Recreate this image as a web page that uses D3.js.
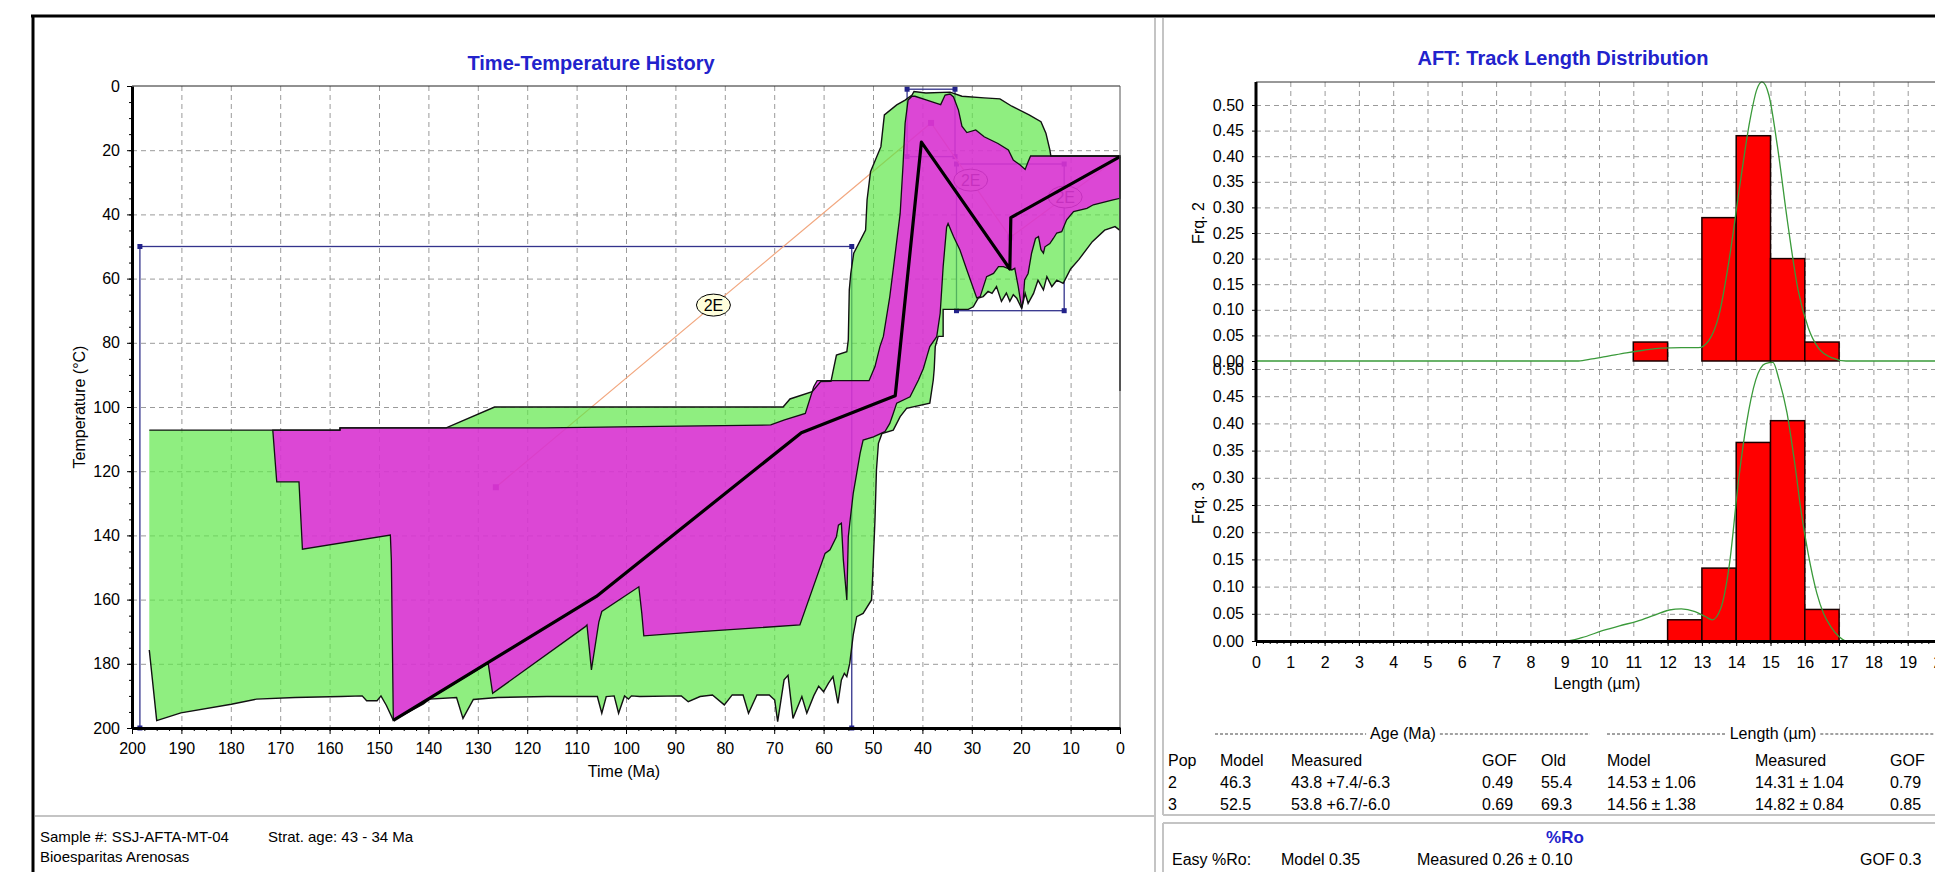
<!DOCTYPE html>
<html>
<head>
<meta charset="utf-8">
<title>Time-Temperature History / AFT</title>
<style>
    body { margin: 0; background: #fff; overflow: hidden; }
    text { font-family: "Liberation Sans", Arial, sans-serif; }
    .grid line { stroke: #9a9a9a; stroke-dasharray: 5,4; }
    .grid .domain { display: none; }
</style>
</head>
<body>
<div id="chart"></div>
<script src="https://cdn.jsdelivr.net/npm/d3@7"></script>
<script>
    const width = 1935, height = 872

    // ---------- time-temperature history ----------
    const timeTicks = d3.range(0, 201, 10)
    const tempTicks = d3.range(0, 201, 20)
    // constraint boxes: [t old, t young, T top, T bottom]
    const boxes = [
        [198.4, 54.3, 50, 200],
        [43.1, 33.4, 1, 22],
        [33.1, 11.3, 24.3, 70]
    ]
    const endPoint = [0, 22]
    const boxLabel = "2E"

    // acceptable-fit envelope (t Ma, T °C)
    const greenUpper = [[196.5,107.2],[157.9,107.2],[157.9,106.5],[136.4,106.5],[126.6,100],[68.2,100],[66.8,97.5],
        [62.3,95.2],[60.6,92.1],[58.5,92],[58.1,89],[57.4,83.8],[55.3,82.8],[55,79.1],[54.8,63.6],[54.5,58.4],
        [53.9,52.1],[51.5,44.9],[51.2,35.5],[50.5,26.7],[48.4,18.9],[47.7,9.0],[45.2,5.9],[43.5,4.4],[42.1,2.8],
        [41.7,1.7],[39.3,2.2],[34.4,1.9],[32,3.2],[27.5,3.7],[24.3,4.0],[21.9,6.3],[18.4,9.0],[16,11.1],[15,14.7],
        [14.2,19.9],[14,21.8],[0,21.8]]
    const greenLower = [[0,95],[0,45],[0.4,44.5],[1.0,43.8],[3.1,44.9],[5.6,48.5],[8.3,54],[10,57],[11.5,61.5],
        [12.8,60.5],[13.8,62.5],[14.8,59.4],[15.5,63.5],[16.6,60.5],[17.5,64.6],[18.6,67.7],[19.2,64.6],[19.9,69.3],
        [20.9,66.1],[21.6,65],[22.3,67.1],[23,64.5],[24,67.1],[25,62.5],[25.9,64.6],[26.7,64],[27.7,65.6],[28.7,66.1],
        [29.7,68.8],[30.7,69.6],[35.8,69.6],[35.8,78],[36.8,78],[37.4,81.2],[37.6,88],[37.8,91.6],[38.5,98.8],
        [43.2,100.4],[44.5,103],[45.9,107.2],[48.2,108.3],[48.9,111.3],[49.3,119.6],[49.6,135.2],[50.1,153.9],
        [50.3,160.1],[52,164.3],[53.3,165.3],[54,171],[54.7,179.8],[55.3,184],[55.8,183],[56.4,185],[57.1,192.3],
        [58.1,184],[59,186],[60,188.7],[61,187],[62,190],[63.4,195.4],[64.4,190.2],[66.2,197],[67.2,183.6],[68,185],
        [69.3,198],[69.9,191.3],[71,189.7],[73.5,189.7],[75.2,195.4],[76.3,189.7],[78.5,189.7],[80.1,192.8],
        [82.5,189.7],[85,190.2],[87.4,191.8],[88.8,190],[97.2,190.2],[98.9,190],[99.5,191],[100.3,190],[101.5,195.4],
        [102.4,190],[104,190.2],[104.9,195.4],[105.8,190.2],[116,190.2],[126,190.5],[130.9,191.1],[133,197],
        [134.3,190.5],[139.8,191],[141,192.5],[147.1,197.6],[148.5,193],[149.6,190],[150.4,191.5],[152.5,191.5],
        [153.4,190],[157.7,190.2],[167,190.5],[174.8,191],[179.9,192.6],[190.1,195.3],[195,197.7],[196.5,175.7]]

    // good-fit envelope
    const magentaUpper = [[171.5,107.2],[157.9,107.2],[157.9,106.5],[116.4,106.5],[97.2,106.1],[70.7,105.6],
        [67.9,104],[63.7,102],[62,93.7],[61.3,91.8],[50.8,91.8],[49.6,87.4],[48.6,81.2],[47.9,78],[46.6,65.6],
        [45.5,52.1],[44.5,39.7],[43.9,24.1],[43.5,11.6],[42.9,4.4],[42.1,3.2],[41.5,3.2],[39.1,4.4],[37.1,5.4],
        [36.3,5.8],[35.4,2.8],[34.4,2.5],[33.7,3.4],[32.7,7.5],[32.0,12.5],[31,14.5],[29.2,13.7],[27.5,15.8],
        [24.7,17.9],[22.6,19.9],[21.6,23.1],[20.2,24.6],[19.2,26],[18.6,23.6],[18.1,21.8],[0,21.8]]
    const magentaLower = [[0,35],[1.4,35.5],[4,36.5],[5.4,37],[6.7,38.1],[9.4,39.1],[10.8,41.7],[11.8,45.4],
        [12.8,45.8],[13.5,47.5],[14.2,49.1],[15.2,50.1],[15.5,52.1],[16,51],[16.5,46.9],[17.1,47.5],[17.9,52.1],
        [18.6,58.4],[19.3,60.4],[19.6,66.7],[19.9,69.3],[20.6,62.5],[21.3,56.8],[21.9,57.3],[23.6,56.3],[24.6,56.3],
        [25.6,58.4],[27,59.4],[28.3,65.6],[29,66],[31,57.3],[32.4,51.1],[33.7,46.9],[34.8,42.8],[35.1,44],[35.8,56.3],
        [36.4,70.8],[37.1,78.1],[38.5,81.2],[39.1,84.3],[39.8,88],[40.8,91.6],[42.5,96.8],[45.2,98.8],[45.9,102],
        [46.6,105.1],[47.6,107.7],[49.9,109.3],[52,110.3],[52.6,114.4],[53.3,120.7],[54,126.9],[54.7,136.2],
        [55,140.4],[55.3,160.1],[56,147.7],[56.4,136.2],[57,136.8],[57.4,140.4],[58.7,144.5],[59.7,145.6],
        [64.8,167.9],[85,170],[96.4,171.3],[96.8,164.3],[97.4,156],[104.9,163.7],[105.5,167],[107,181.9],
        [107.9,167.9],[108.3,168.5],[127,189.2],[127.9,179.8],[147.1,197.6],[147.5,147.7],[147.7,139.9],
        [165.5,144.3],[166.2,123.3],[170.7,123.3]]

    // best-fit path
    const bestPath = [[147.1,197.6],[106,159],[64.5,108],[45.5,96.5],[40.2,17.5],[22.3,57],[22.1,41],[0,22]]

    // ---------- track length distribution ----------
    const lengthTicks = d3.range(0, 21)
    const freqTicks = [0, 0.05, 0.10, 0.15, 0.20, 0.25, 0.30, 0.35, 0.40, 0.45, 0.50]
    const pop2Bins = [11, 13, 14, 15, 16]
    const pop2Freq = [0.037, 0.28, 0.44, 0.20, 0.037]
    const pop3Bins = [12, 13, 14, 15, 16]
    const pop3Freq = [0.039, 0.134, 0.365, 0.405, 0.058]
    const pop2Model = [[0,0],[9.4,0],[9.8,0.004],[10.3,0.01],[10.8,0.016],[11.3,0.021],[11.8,0.025],[12.4,0.026],
        [12.9,0.026],[13.2,0.04],[13.5,0.09],[13.8,0.2],[14.1,0.34],[14.4,0.47],[14.6,0.53],[14.75,0.545],
        [14.95,0.52],[15.2,0.42],[15.5,0.27],[15.8,0.14],[16.1,0.065],[16.4,0.025],[16.8,0.006],[17.2,0],[20,0]]
    const pop3Model = [[0,0],[9.0,0],[9.5,0.006],[10.1,0.019],[10.6,0.028],[11.1,0.036],[11.6,0.047],[12.05,0.057],
        [12.4,0.059],[12.8,0.054],[13.1,0.045],[13.3,0.039],[13.55,0.06],[13.8,0.14],[14.07,0.296],[14.3,0.4],
        [14.57,0.48],[14.85,0.51],[15.07,0.512],[15.25,0.48],[15.48,0.42],[15.7,0.33],[15.9,0.235],[16.1,0.16],
        [16.35,0.088],[16.55,0.05],[16.76,0.026],[17.0,0.008],[17.2,0],[20,0]]

    const tableHead = ["Pop", "Model", "Measured", "GOF", "Old", "Model", "Measured", "GOF"]
    const tableRows = [
        ["2", "46.3", "43.8 +7.4/-6.3", "0.49", "55.4", "14.53 ± 1.06", "14.31 ± 1.04", "0.79"],
        ["3", "52.5", "53.8 +6.7/-6.0", "0.69", "69.3", "14.56 ± 1.38", "14.82 ± 0.84", "0.85"]
    ]

    let svg = d3.select("#chart").append("svg")
        .attr("width", width)
        .attr("height", height)

    // panels
    let frame = svg.append("g")
    frame.append("line").attr("x1", 31).attr("x2", width).attr("y1", 16).attr("y2", 16)
        .attr("stroke", "#000").attr("stroke-width", 3)
    frame.append("line").attr("x1", 33).attr("x2", 33).attr("y1", 15).attr("y2", height)
        .attr("stroke", "#000").attr("stroke-width", 3)
    let greyLines = [[1155,18,1155,872],[1163,18,1163,815],[35,816,1155,816],[1163,815,1935,815],
        [1163,823,1935,823],[1163,823,1163,872]]
    frame.selectAll(".sep").data(greyLines).enter().append("line")
        .attr("x1", d => d[0]).attr("y1", d => d[1]).attr("x2", d => d[2]).attr("y2", d => d[3])
        .attr("stroke", "#c4c4c4").attr("stroke-width", 2)

    // ================= left chart =================
    let x = d3.scaleLinear().domain([200, 0]).range([132, 1120])
    let y = d3.scaleLinear().domain([0, 200]).range([86, 728])
    let line = d3.line().x(d => x(d[0])).y(d => y(d[1]))

    let hist = svg.append("g")

    hist.append("g").attr("class", "grid")
        .attr("transform", "translate(0,86)")
        .call(d3.axisTop(x).tickValues(d3.range(10, 200, 10)).tickSize(-642).tickFormat(""))
    hist.append("g").attr("class", "grid")
        .attr("transform", "translate(132,0)")
        .call(d3.axisLeft(y).tickValues(d3.range(20, 200, 20)).tickSize(-988).tickFormat(""))

    // constraint boxes
    hist.selectAll(".box").data(boxes).enter().append("rect")
        .attr("x", d => x(d[0])).attr("y", d => y(d[2]))
        .attr("width", d => x(d[1]) - x(d[0])).attr("height", d => y(d[3]) - y(d[2]))
        .attr("fill", "none").attr("stroke", "#33338c").attr("stroke-width", 1.3)
    let corners = []
    boxes.forEach(b => { corners.push([b[0], b[2]], [b[1], b[2]], [b[0], b[3]], [b[1], b[3]]) })
    hist.selectAll(".corner").data(corners).enter().append("rect")
        .attr("x", d => x(d[0]) - 2.5).attr("y", d => y(d[1]) - 2.5)
        .attr("width", 5).attr("height", 5).attr("fill", "#22228a")

    let centers = boxes.map(b => [(b[0] + b[1]) / 2, (b[2] + b[3]) / 2])
    let chain = centers.concat([endPoint])
    hist.append("path").attr("d", line(chain))
        .attr("fill", "none").attr("stroke", "#f2a880").attr("stroke-width", 1.2)
    hist.selectAll(".cen").data(centers).enter().append("rect")
        .attr("x", d => x(d[0]) - 3).attr("y", d => y(d[1]) - 3)
        .attr("width", 6).attr("height", 6).attr("fill", "#9030a8")

    let mids = d3.range(chain.length - 1).map(i => [(chain[i][0] + chain[i + 1][0]) / 2, (chain[i][1] + chain[i + 1][1]) / 2])
    let labels = hist.selectAll(".lab").data(mids).enter().append("g")
        .attr("transform", d => "translate(" + x(d[0]) + "," + y(d[1]) + ")")
    labels.append("ellipse").attr("rx", 17).attr("ry", 11)
        .attr("fill", "#ffffdc").attr("stroke", "#000").attr("stroke-width", 1)
    labels.append("text").attr("text-anchor", "middle").attr("dy", "0.36em")
        .attr("font-size", 16).text(boxLabel)

    // envelopes
    hist.append("path").attr("d", line(greenUpper.concat(greenLower)) + "Z")
        .attr("fill", "#60e74a").attr("fill-opacity", 0.7).attr("stroke", "none")
    hist.append("path").attr("d", line(magentaUpper.concat(magentaLower)) + "Z")
        .attr("fill", "#fc00fa").attr("fill-opacity", 0.7).attr("stroke", "none")
    hist.append("path").attr("d", line(greenUpper.concat(greenLower)))
        .attr("fill", "none").attr("stroke", "#111").attr("stroke-width", 1.4)
    hist.append("path").attr("d", line(magentaUpper.concat(magentaLower)) + "Z")
        .attr("fill", "none").attr("stroke", "#111").attr("stroke-width", 1.3)
    hist.append("path").attr("d", line(bestPath))
        .attr("fill", "none").attr("stroke", "#000").attr("stroke-width", 3.2)
        .attr("stroke-linejoin", "round")

    // frame + axes
    hist.append("line").attr("x1", 132).attr("x2", 1120).attr("y1", 86).attr("y2", 86).attr("stroke", "#222")
    hist.append("line").attr("x1", 1120).attr("x2", 1120).attr("y1", 86).attr("y2", 728).attr("stroke", "#555")

    let yMinor = hist.append("g").attr("transform", "translate(132,0)")
        .call(d3.axisLeft(y).tickValues(d3.range(0, 201, 5)).tickSize(3).tickSizeOuter(0).tickFormat(""))
    yMinor.select(".domain").remove()
    let yAxis = hist.append("g").attr("transform", "translate(132,0)")
        .call(d3.axisLeft(y).tickValues(tempTicks).tickSize(5).tickSizeOuter(0).tickPadding(7))
    yAxis.select(".domain").attr("stroke-width", 3)

    let xMinor = hist.append("g").attr("transform", "translate(0,728)")
        .call(d3.axisBottom(x).tickValues(d3.range(0, 200.1, 2.5)).tickSize(3).tickSizeOuter(0).tickFormat(""))
    xMinor.select(".domain").remove()
    let xAxis = hist.append("g").attr("transform", "translate(0,728)")
        .call(d3.axisBottom(x).tickValues(timeTicks).tickSize(6).tickSizeOuter(0).tickPadding(9))
    xAxis.select(".domain").attr("stroke-width", 3)

    hist.selectAll("g text").filter(function () { return this.parentNode.classList.contains("tick") })
        .attr("font-size", 16).attr("fill", "#000")
    yAxis.attr("font-family", null); xAxis.attr("font-family", null)

    hist.append("text").attr("x", 591).attr("y", 70).attr("text-anchor", "middle")
        .attr("font-size", 20).attr("font-weight", "bold").attr("fill", "#2222cc")
        .text("Time-Temperature History")
    hist.append("text").attr("x", 624).attr("y", 777).attr("text-anchor", "middle")
        .attr("font-size", 16).text("Time (Ma)")
    hist.append("text").attr("transform", "translate(85,407) rotate(-90)").attr("text-anchor", "middle")
        .attr("font-size", 16).text("Temperature (°C)")

    svg.append("text").attr("x", 40).attr("y", 842).attr("font-size", 15)
        .text("Sample #: SSJ-AFTA-MT-04")
    svg.append("text").attr("x", 268).attr("y", 842).attr("font-size", 15)
        .text("Strat. age: 43 - 34 Ma")
    svg.append("text").attr("x", 40).attr("y", 862).attr("font-size", 15)
        .text("Bioesparitas Arenosas")

    // ================= right chart =================
    let xr = d3.scaleLinear().domain([0, 20]).range([1256, 1942])
    let yTop = d3.scaleLinear().domain([0, 0.5]).range([361, 105])
    let yBot = d3.scaleLinear().domain([0, 0.5]).range([641, 369])

    let aft = svg.append("g")

    aft.append("g").attr("class", "grid")
        .attr("transform", "translate(0,82)")
        .call(d3.axisTop(xr).tickValues(lengthTicks.slice(1)).tickSize(-559).tickFormat(""))
    aft.append("g").attr("class", "grid")
        .attr("transform", "translate(1256,0)")
        .call(d3.axisLeft(yTop).tickValues(freqTicks.slice(1)).tickSize(-700).tickFormat(""))
    aft.append("g").attr("class", "grid")
        .attr("transform", "translate(1256,0)")
        .call(d3.axisLeft(yBot).tickValues(freqTicks.slice(1)).tickSize(-700).tickFormat(""))
    aft.selectAll(".grid line").attr("stroke-dasharray", "5,3")

    function bars(bins, freq, ys) {
        aft.selectAll(null).data(bins).enter().append("rect")
            .attr("x", d => xr(d)).attr("width", d => xr(d + 1) - xr(d))
            .attr("y", (d, i) => ys(freq[i])).attr("height", (d, i) => ys(0) - ys(freq[i]))
            .attr("fill", "#ff0000").attr("stroke", "#1a0000").attr("stroke-width", 1.5)
    }
    bars(pop2Bins, pop2Freq, yTop)
    bars(pop3Bins, pop3Freq, yBot)

    let curveTop = d3.line().x(d => xr(d[0])).y(d => yTop(d[1])).curve(d3.curveMonotoneX)
    let curveBot = d3.line().x(d => xr(d[0])).y(d => yBot(d[1])).curve(d3.curveMonotoneX)
    aft.append("path").attr("d", curveTop(pop2Model))
        .attr("fill", "none").attr("stroke", "#3a9a3a").attr("stroke-width", 1.3)
    aft.append("path").attr("d", curveBot(pop3Model))
        .attr("fill", "none").attr("stroke", "#3a9a3a").attr("stroke-width", 1.3)

    aft.append("line").attr("x1", 1256).attr("x2", 1935).attr("y1", 82).attr("y2", 82).attr("stroke", "#333")

    let rTop = aft.append("g").attr("transform", "translate(1256,0)")
        .call(d3.axisLeft(yTop).tickValues(freqTicks).tickSize(4).tickSizeOuter(0).tickPadding(8).tickFormat(d3.format(".2f")))
    rTop.select(".domain").remove()
    let rBot = aft.append("g").attr("transform", "translate(1256,0)")
        .call(d3.axisLeft(yBot).tickValues(freqTicks).tickSize(4).tickSizeOuter(0).tickPadding(8).tickFormat(d3.format(".2f")))
    rBot.select(".domain").remove()
    aft.append("line").attr("x1", 1256).attr("x2", 1256).attr("y1", 82).attr("y2", 642)
        .attr("stroke", "#000").attr("stroke-width", 3)

    let rMinor = aft.append("g").attr("transform", "translate(0,641)")
        .call(d3.axisBottom(xr).tickValues(d3.range(0, 20.01, 0.2)).tickSize(3).tickSizeOuter(0).tickFormat(""))
    rMinor.select(".domain").remove()
    let rx = aft.append("g").attr("transform", "translate(0,641)")
        .call(d3.axisBottom(xr).tickValues(lengthTicks).tickSize(5).tickSizeOuter(0).tickPadding(11))
    rx.select(".domain").attr("stroke-width", 3)

    aft.selectAll("g text").filter(function () { return this.parentNode.classList.contains("tick") })
        .attr("font-size", 16).attr("fill", "#000")

    aft.append("text").attr("x", 1563).attr("y", 65).attr("text-anchor", "middle")
        .attr("font-size", 20).attr("font-weight", "bold").attr("fill", "#2222cc")
        .text("AFT: Track Length Distribution")
    aft.append("text").attr("x", 1597).attr("y", 689).attr("text-anchor", "middle")
        .attr("font-size", 16).text("Length (µm)")
    aft.append("text").attr("transform", "translate(1204,223) rotate(-90)").attr("text-anchor", "middle")
        .attr("font-size", 16).text("Frq. 2")
    aft.append("text").attr("transform", "translate(1204,503) rotate(-90)").attr("text-anchor", "middle")
        .attr("font-size", 16).text("Frq. 3")

    // ================= table =================
    let table = svg.append("g").attr("font-size", 16)
    let colX = [1168, 1220, 1291, 1482, 1541, 1607, 1755, 1890]
    let groups = [[1215, 1590, 1403, "Age (Ma)"], [1607, 1935, 1773, "Length (µm)"]]
    groups.forEach(g => {
        let t = table.append("text").attr("x", g[2]).attr("y", 739).attr("text-anchor", "middle").text(g[3])
        let w = t.node().getComputedTextLength() / 2 + 4
        table.append("line").attr("x1", g[0]).attr("x2", g[2] - w).attr("y1", 734).attr("y2", 734)
            .attr("stroke", "#444").attr("stroke-dasharray", "3,2")
        table.append("line").attr("x1", g[2] + w).attr("x2", g[1]).attr("y1", 734).attr("y2", 734)
            .attr("stroke", "#444").attr("stroke-dasharray", "3,2")
    })
    table.selectAll(".head").data(tableHead).enter().append("text")
        .attr("x", (d, i) => colX[i]).attr("y", 766).text(d => d)
    tableRows.forEach((row, r) => {
        table.selectAll(null).data(row).enter().append("text")
            .attr("x", (d, i) => colX[i]).attr("y", 788 + r * 22).text(d => d)
    })

    svg.append("text").attr("x", 1565).attr("y", 843).attr("text-anchor", "middle")
        .attr("font-size", 17).attr("font-weight", "bold").attr("fill", "#2222cc").text("%Ro")
    let ro = [[1172, "Easy %Ro:"], [1281, "Model  0.35"], [1417, "Measured  0.26 ± 0.10"], [1860, "GOF  0.3"]]
    svg.selectAll(".ro").data(ro).enter().append("text")
        .attr("x", d => d[0]).attr("y", 865).attr("font-size", 16).text(d => d[1])
</script>
</body>
</html>
